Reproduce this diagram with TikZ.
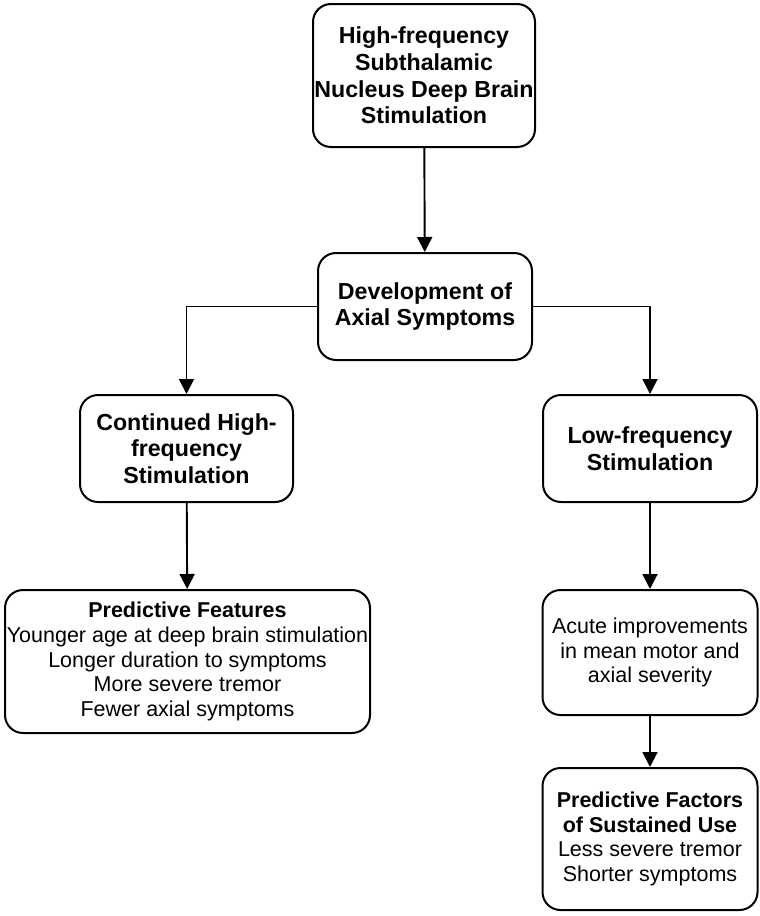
\documentclass[tikz,border=0pt]{standalone}
\usepackage{fontspec}
\setmainfont{Liberation Sans}
\usetikzlibrary{arrows.meta}

\begin{document}
\begin{tikzpicture} [
			x=1pt, y=-1pt,
			box/.style={rectangle, draw, line width=2pt, rounded corners=18pt, align=center, inner sep=0pt},
			big/.style={font=\fontsize{23.2}{26.7}\selectfont\bfseries},
			small/.style={font=\fontsize{21.5}{24.6}\selectfont},
			arrow/.style={line width=1.9pt, -{Triangle[length=15pt, width=15pt]}}
		]
		\useasboundingbox (0,0) rectangle (760,916);
		\node at (424,75.5)  [box, big, minimum width=222pt, minimum height=143pt] (dbs) {High-frequency\\Subthalamic\\Nucleus Deep Brain\\Stimulation};
		\node at (425,306.5) [box, big, minimum width=214pt, minimum height=107pt] (axial) {Development of\\Axial Symptoms};
		\node at (186.5,448.5) [box, big, minimum width=213pt, minimum height=107pt] (highfreq) {Continued High-\\frequency\\Stimulation};
		\node at (650,448.5) [box, big, minimum width=214pt, minimum height=107pt] (lowfreq) {Low-frequency\\Stimulation};
		\node at (187.5,661.5) [box, small, minimum width=365pt, minimum height=143pt] (features) {\textbf{Predictive Features}\\Younger age at deep brain stimulation\\Longer duration to symptoms\\More severe tremor\\Fewer axial symptoms};
		\node at (650,652.5) [box, small, minimum width=215pt, minimum height=125pt] (acute) {Acute improvements\\in mean motor and\\axial severity};
		\node at (650,839) [box, small, minimum width=215pt, minimum height=142pt] (factors) {\textbf{Predictive Factors}\\\textbf{of Sustained Use}\\Less severe tremor\\Shorter symptoms};
		
		\draw [arrow] (dbs) -- (axial);
		\draw [arrow] (axial.west) -| (highfreq.north);
		\draw [arrow] (axial.east) -| (lowfreq.north);
		\draw [arrow] (highfreq) -- (features);
		\draw [arrow] (lowfreq) -- (acute);
		\draw [arrow] (acute) -- (factors);
	\end{tikzpicture}
\end{document}
